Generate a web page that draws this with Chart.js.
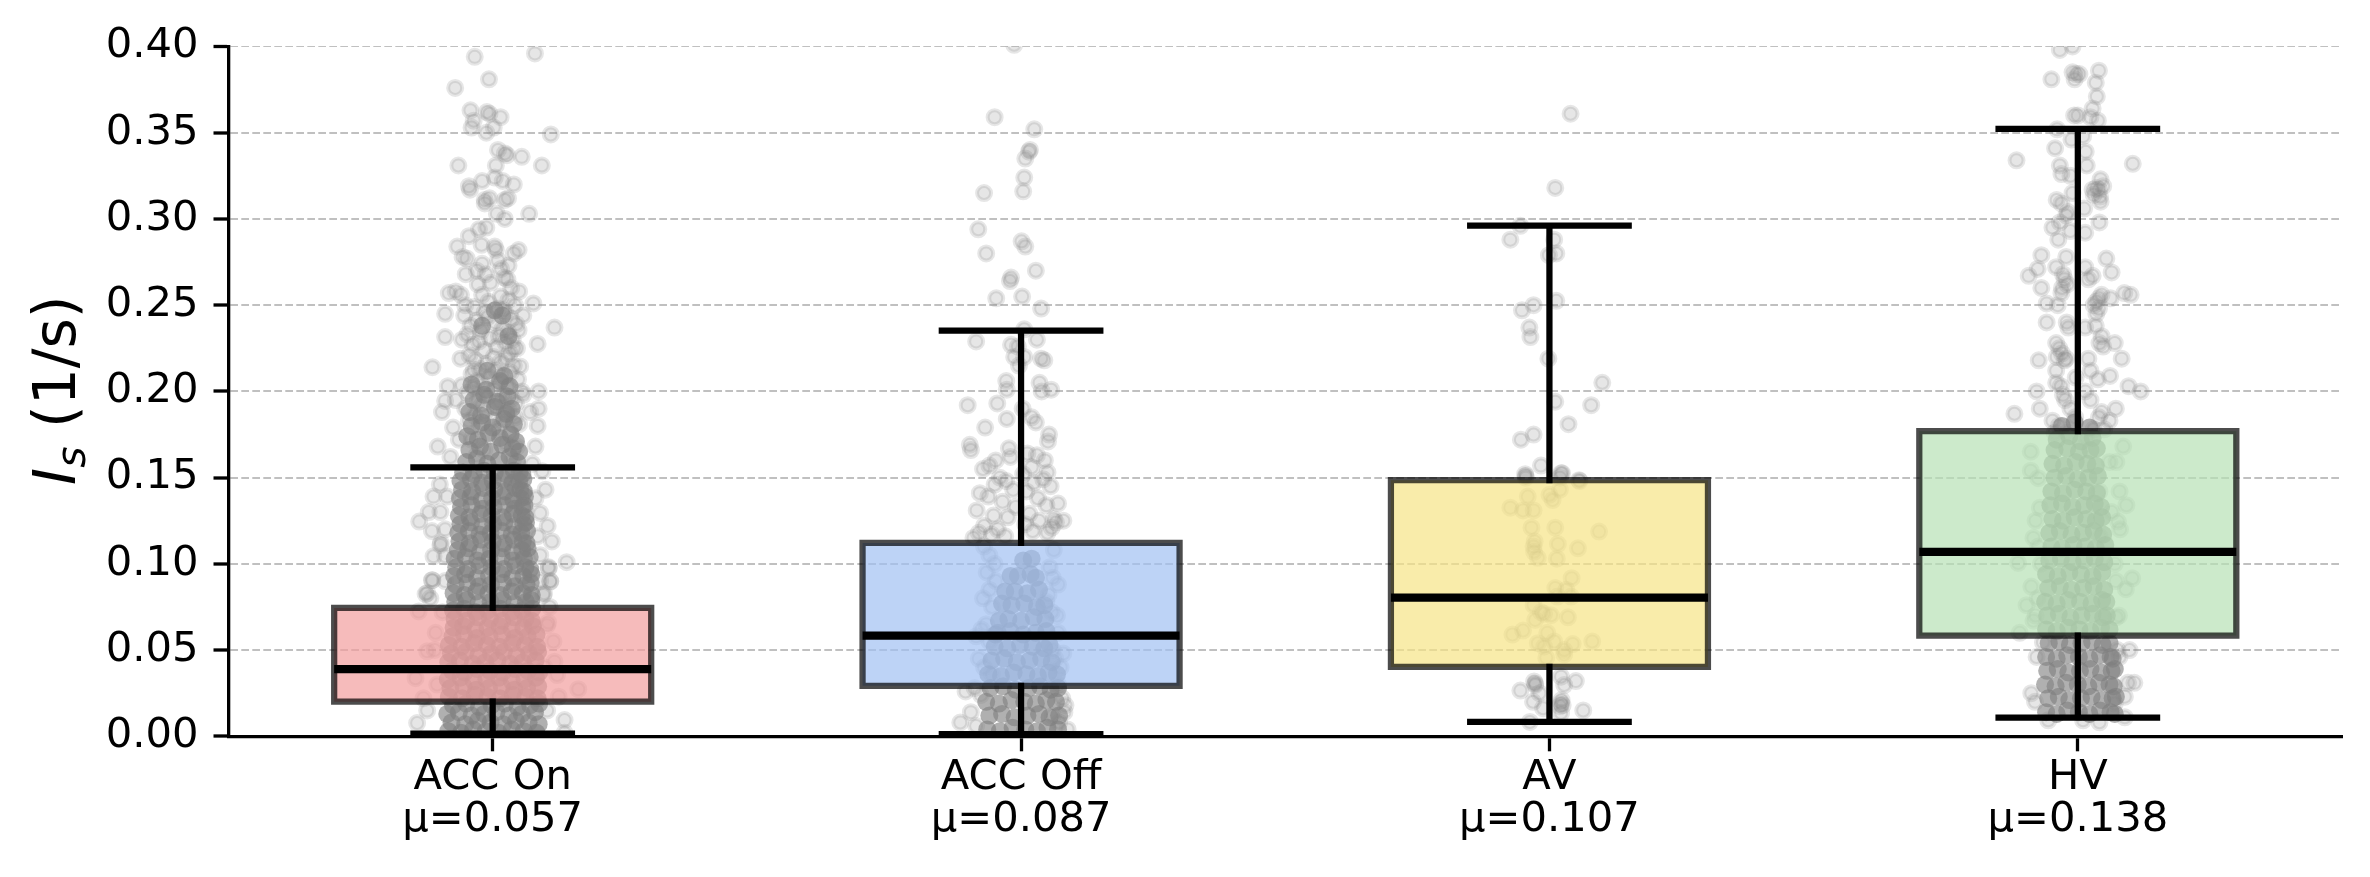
<!DOCTYPE html>
<html>
<head>
<meta charset="utf-8">
<title>Is by vehicle group</title>
<script src="https://cdn.jsdelivr.net/npm/chart.js@4/dist/chart.umd.min.js"></script>
<style>
  html, body { margin: 0; padding: 0; background: #fff; }
  canvas { display: block; }
</style>
</head>
<body>
<canvas id="chart" width="2370" height="877"></canvas>
<script>
const categories = ['ACC On', 'ACC Off', 'AV', 'HV'];
const meanLabels = ['μ=0.057', 'μ=0.087', 'μ=0.107', 'μ=0.138'];
const yTicks = [0, 0.05, 0.1, 0.15, 0.2, 0.25, 0.3, 0.35, 0.4];

// box statistics per group
const q1Values = [0.0201, 0.0293, 0.0402, 0.0584];
const medianValues = [0.039, 0.0584, 0.0804, 0.1069];
const q3Values = [0.0744, 0.1121, 0.1485, 0.1769];
const whiskerLow = [0.0015, 0.0012, 0.0083, 0.0108];
const whiskerHigh = [0.156, 0.2353, 0.2962, 0.3523];

const boxFills = ['rgba(242,158,158,0.7)', 'rgba(161,192,242,0.7)', 'rgba(246,228,134,0.7)', 'rgba(182,225,181,0.7)'];

// individual observations, x is the jitter around the group position
const accOnJitter = [
  -.034,.08,-.007,-.071,-.042,-.011,-.006,.015,-.036,-.04,
  .002,-.012,.11,.01,.023,.027,.055,-.065,.093,.006,
  .004,-.02,.019,.04,-.045,-.043,-.006,-.015,.029,.023,
  -.015,.008,.023,.069,-.012,-.026,-.045,-.067,-.021,.004,
  .006,.049,.04,-.057,-.049,.01,-.02,.03,.016,-.03,
  -.051,-.013,.022,.028,-.004,-.028,.035,.05,-.07,-.06,
  -.083,-.09,-.052,-.054,.077,.117,.058,.049,-.09,.085,
  -.058,.04,-.061,-.114,.052,-.036,-.085,-.058,.087,.058,
  -.09,-.07,-.096,.087,.071,-.075,.085,-.064,-.104,.081,
  -.08,.075,.094,-.112,-.121,-.139,-.115,-.086,-.099,-.09,
  .081,.09,.104,.062,.058,.085,-.099,-.112,-.09,.09,
  .106,.14,-.114,.109,-.09,-.127,-.118,.096,.09,.106,
  .109,-.124,-.115,.097,-.14,-.108,.103,.115,-.124,.117,
  -.146,.122,.162,-.131,.125,-.143,.136,.136,-.124,.103,
  -.02,.015,.03,-.008,.042,-.035,.01,.02,-.015,.025,
  -.01,.035,-.03,.005,.045,-.042,.018,-.022,.03,-.048,
  .012,-.005,.038,-.026,.024,-.038,.008,.046,-.016,.032,
  -.044,.002,.026,-.033,.015,-.012,.04,-.024,.007,.034,
  -.04,.018,-.006,.048,-.03,.012,-.018,.028,-.036,.004,
  .055,-.048,.02,-.01,.036,-.028,.014,.044,-.02,.006,
  -.052,.03,-.014,.022,-.034,.042,.002,-.045,.016,.05,
  -.025,.01,.033,-.008,-.04,.024,.046,-.016,-.03,.038,
  -.1,.1,-.095,.105,-.11,.098,-.105,.108,-.098,.112
];
const accOnValues = [
  .394,.396,.381,.376,.363,.362,.361,.359,.357,.353,
  .353,.35,.349,.34,.338,.337,.336,.331,.331,.331,
  .324,.322,.322,.32,.319,.317,.312,.311,.312,.311,
  .309,.303,.3,.303,.295,.294,.29,.284,.285,.284,
  .282,.282,.28,.278,.277,.276,.274,.273,.271,.27,
  .268,.268,.266,.265,.263,.262,.26,.258,.258,.256,
  .257,.245,.25,.244,.251,.237,.244,.2355,.2315,.2275,
  .23,.225,.219,.214,.2145,.2125,.203,.2036,.2,.198,
  .1945,.195,.188,.19,.188,.179,.18,.172,.168,.168,
  .162,.158,.1537,.139,.13,.1245,.119,.139,.13,.12,
  .138,.1295,.122,.131,.141,.116,.111,.1044,.1044,.105,
  .098,.101,.0905,.09,.09,.0825,.08,.082,.09,.0975,
  .0897,.083,.0905,.083,.0724,.06,.0644,.055,.0493,.0433,
  .0337,.0355,.0273,.022,.023,.0077,.0094,.002,.015,.015,
  .256,.255,.253,.252,.25,.249,.248,.247,.246,.245,
  .243,.242,.241,.24,.239,.238,.236,.235,.234,.233,
  .232,.231,.23,.229,.228,.227,.226,.225,.224,.222,
  .221,.22,.219,.218,.217,.216,.215,.213,.212,.211,
  .21,.209,.208,.207,.206,.205,.204,.203,.202,.201,
  .2,.199,.198,.197,.196,.195,.194,.193,.192,.191,
  .19,.189,.188,.187,.186,.185,.184,.183,.182,.181,
  .18,.178,.176,.174,.172,.17,.168,.166,.163,.16,
  .146,.143,.072,.066,.05,.04,.03,.075,.112,.113
];
// tightly overplotted observations of the dense middle band
const accOnDenseJitter = [
  -.084,-.06,-.037,-.013,.011,.036,.059,.083,
  -.078,-.052,-.028,-.004,.02,.044,.068,.087,
  -.086,-.064,-.04,-.016,.007,.031,.055,.08,
  -.075,-.05,-.026,-.002,.023,.047,.071,.088,
  -.083,-.058,-.034,-.01,.014,.038,.062,.085,
  -.08,-.055,-.031,-.007,.017,.041,.065,.086,
  -.085,-.061,-.036,-.012,.012,.036,.06,.082,
  -.077,-.053,-.029,-.005,.019,.043,.067,.088,
  -.084,-.062,-.038,-.014,.009,.033,.057,.081,
  -.079,-.051,-.027,-.003,.021,.045,.069,.086,
  -.083,-.059,-.035,-.011,.013,.037,.061,.084,
  -.076,-.054,-.03,-.006,.018,.042,.066,.083,
  -.074,-.056,-.033,-.01,.013,.036,.058,.076,
  -.072,-.05,-.028,-.005,.018,.04,.062,.074,
  -.075,-.054,-.032,-.009,.014,.035,.056,.075,
  -.071,-.049,-.027,-.004,.019,.041,.063,.073,
  -.074,-.053,-.031,-.008,.015,.036,.057,.074,
  -.07,-.048,-.026,-.003,.02,.042,.064,.072,
  -.073,-.052,-.03,-.007,.016,.037,.058,.073,
  -.069,-.047,-.025,-.002,.021,.043,.062,.071,
  -.072,-.051,-.029,-.006,.017,.038,.059,.07,
  -.066,-.046,-.024,-.003,.018,.038,.056,.066,
  -.063,-.043,-.022,0,.021,.04,.057,.064,
  -.065,-.045,-.025,-.004,.017,.036,.054,.065,
  -.061,-.041,-.02,.001,.022,.041,.058,.063,
  -.064,-.044,-.023,-.002,.019,.038,.055,.062,
  -.06,-.04,-.019,.002,.023,.042,.056,.06,
  -.062,-.042,-.021,-.001,.02,.039,.053,.061,
  -.058,-.039,-.018,.003,.024,.043,.052,.059,
  -.061,-.041,-.02,0,.021,.037,.05,.058,
  -.056,-.036,-.016,.004,.025,.04,.051,.056,
  -.05,-.03,-.01,.012,.032,.046,
  -.044,-.024,-.004,.018,.038,.05,
  -.048,-.028,-.008,.014,.034,.044,
  -.04,-.02,0,.022,.04,
  -.044,-.022,.004,.026,.036,
  -.036,-.016,.008,.028,
  -.04,-.012,.014,.032,
  -.01,.022,.03,
  .004,.018,-.02
];
const accOnDenseValues = [
  .003,.002,.004,.003,.002,.004,.003,.002,
  .008,.007,.009,.008,.007,.009,.008,.007,
  .013,.014,.012,.013,.014,.012,.013,.014,
  .018,.019,.017,.018,.019,.017,.018,.019,
  .023,.022,.024,.023,.022,.024,.023,.022,
  .028,.029,.027,.028,.029,.027,.028,.029,
  .033,.034,.032,.033,.034,.032,.033,.034,
  .038,.037,.039,.038,.037,.039,.038,.037,
  .043,.044,.042,.043,.044,.042,.043,.044,
  .048,.049,.047,.048,.049,.047,.048,.049,
  .053,.052,.054,.053,.052,.054,.053,.052,
  .058,.059,.057,.058,.059,.057,.058,.059,
  .063,.064,.062,.063,.064,.062,.063,.064,
  .068,.067,.069,.068,.067,.069,.068,.067,
  .073,.074,.072,.073,.074,.072,.073,.074,
  .078,.079,.077,.078,.079,.077,.078,.079,
  .083,.082,.084,.083,.082,.084,.083,.082,
  .088,.089,.087,.088,.089,.087,.088,.089,
  .093,.094,.092,.093,.094,.092,.093,.094,
  .098,.097,.099,.098,.097,.099,.098,.097,
  .103,.104,.102,.103,.104,.102,.103,.104,
  .108,.109,.107,.108,.109,.107,.108,.109,
  .113,.112,.114,.113,.112,.114,.113,.112,
  .118,.119,.117,.118,.119,.117,.118,.119,
  .123,.124,.122,.123,.124,.122,.123,.124,
  .128,.127,.129,.128,.127,.129,.128,.127,
  .133,.134,.132,.133,.134,.132,.133,.134,
  .138,.139,.137,.138,.139,.137,.138,.139,
  .143,.142,.144,.143,.142,.144,.143,.142,
  .148,.149,.147,.148,.149,.147,.148,.149,
  .153,.152,.154,.153,.152,.154,.153,.152,
  .159,.161,.158,.16,.162,.159,
  .166,.168,.165,.169,.167,.165,
  .174,.172,.176,.173,.175,.171,
  .18,.182,.179,.184,.181,
  .188,.186,.191,.187,.19,
  .195,.198,.194,.197,
  .204,.201,.206,.203,
  .212,.209,.232,
  .247,.244,.238
];

const accOffJitter = [
  -.013,-.05,.025,.017,.015,.008,.006,-.07,.004,-.081,
  .001,.008,-.066,.028,-.019,-.021,-.047,.002,.038,.006,
  .03,-.085,-.019,-.006,-.013,.006,.038,.044,-.004,-.028,
  .035,-.027,.039,.057,-.045,-.101,.003,.02,.028,-.027,
  -.068,.053,.051,-.097,-.023,-.095,-.048,-.06,-.02,.012,
  .03,.045,-.072,-.04,.02,.05,-.05,-.028,.004,.024,
  -.015,.042,-.078,-.062,.01,.056,-.035,-.01,.032,.07,
  -.084,-.052,-.025,.016,.048,.062,-.07,-.044,.008,.034,
  .058,-.08,-.056,-.03,.022,.05,.066,.08,-.09,-.07,
  -.06,.062,-.05,.054,-.065,.06,-.048,.07,-.06,.052,
  -.072,.048,-.055,.058,.068,-.066,-.075,.07,-.06,.06,
  -.085,-.08,-.07,-.055,.065,.075,.08,-.105,-.088,-.076,
  .07,.078,.084,-.115,-.095,-.085,.06,.072,.082,.088
];
const accOffValues = [
  .401,.359,.352,.34,.339,.335,.324,.315,.316,.294,
  .287,.284,.28,.27,.266,.264,.254,.255,.248,.236,
  .23,.229,.227,.226,.22,.22,.219,.218,.215,.206,
  .205,.201,.2,.201,.193,.192,.19,.185,.182,.184,
  .179,.175,.171,.169,.167,.166,.16,.157,.162,.164,
  .163,.16,.155,.15,.156,.153,.146,.148,.152,.147,
  .143,.149,.141,.139,.142,.145,.136,.133,.138,.135,
  .131,.128,.127,.129,.134,.126,.122,.12,.123,.125,
  .121,.118,.117,.116,.119,.118,.124,.125,.115,.11,
  .105,.108,.1,.098,.095,.092,.09,.088,.085,.082,
  .08,.078,.075,.072,.07,.065,.062,.06,.055,.05,
  .058,.045,.04,.036,.045,.04,.048,.026,.028,.024,
  .03,.022,.018,.008,.014,.006,.012,.008,.014,.004
];
const accOffDenseJitter = [
  -.064,-.04,-.016,.008,.03,.05,.07,
  -.06,-.036,-.012,.012,.034,.054,.072,
  -.066,-.042,-.018,.006,.028,.048,.066,
  -.058,-.034,-.01,.014,.036,.056,.07,
  -.062,-.038,-.014,.01,.032,.052,.068,
  -.056,-.032,-.008,.016,.038,.058,
  -.05,-.026,-.002,.022,.044,.054,
  -.044,-.02,.004,.028,.048,
  -.048,-.024,0,.024,.046,
  -.042,-.018,.006,.03,.044,
  -.036,-.012,.012,.034,
  -.03,-.006,.018,.028,
  -.02,.004,.02
];
const accOffDenseValues = [
  .004,.003,.005,.004,.003,.005,.004,
  .012,.013,.011,.012,.013,.011,.012,
  .02,.019,.021,.02,.019,.021,.02,
  .028,.029,.027,.028,.029,.027,.028,
  .036,.035,.037,.036,.035,.037,.036,
  .044,.045,.043,.044,.045,.043,
  .052,.051,.053,.052,.051,.053,
  .06,.061,.059,.06,.061,.059,
  .068,.067,.069,.068,.067,
  .076,.077,.075,.076,.077,
  .084,.083,.085,.084,
  .093,.094,.092,.093,
  .102,.103,.101
];

const avJitter = [
  .04,.011,-.055,-.074,.009,.013,-.001,-.03,.013,-.052,
  -.038,-.036,-.002,.1,.011,.079,.036,-.03,-.054,-.016,
  -.046,-.045,.024,.02,.056,-.045,.022,.057,-.041,0,
  .006,.02,-.074,-.05,-.03,-.034,.011,.094,-.028,-.03,
  -.029,.016,.054,-.022,.014,.042,.011,.032,.015,.041,
  -.03,-.016,.003,-.01,.035,-.027,-.05,-.07,-.004,-.022,
  .009,.044,.081,-.01,.028,.028,-.006,.022,-.029,-.027,
  -.027,.05,.028,-.055,-.019,-.031,.022,.025,.02,.023,
  -.012,.064,.022,-.037
];
const avValues = [
  .361,.318,.296,.288,.288,.28,.279,.25,.2525,.247,
  .237,.2315,.219,.205,.194,.192,.181,.175,.172,.157,
  .152,.15,.1525,.15,.1485,.151,.1525,.148,.139,.14,
  .137,.143,.1326,.131,.131,.121,.121,.1187,.113,.11,
  .107,.1115,.109,.1035,.103,.0917,.086,.085,.081,.081,
  .076,.072,.0702,.071,.069,.0675,.0613,.059,.06,.054,
  .055,.0535,.055,.052,.05,.0475,.0455,.0346,.0318,.0305,
  .0298,.032,.0297,.0265,.025,.02,.0193,.018,.0175,.021,
  .0163,.015,.0135,.0083
];

const hvJitter = [
  -.034,-.01,-.01,.003,-.003,-.006,.04,-.05,.034,.036,
  .028,-.007,0,.024,.038,-.039,.01,-.012,-.043,.015,
  -.116,.104,-.034,.017,-.031,-.014,.043,.028,.035,.04,
  .03,.042,.048,-.01,.043,-.04,-.031,.012,-.019,-.022,
  .041,-.048,-.034,-.014,.014,-.037,-.069,-.022,.054,-.041,
  -.076,-.093,.064,.014,-.028,-.025,-.02,-.03,.028,.02,
  -.069,-.031,.088,.1,.045,.04,.035,.03,.04,.035,
  .062,-.059,-.038,-.059,-.021,-.018,.014,.034,.045,.07,
  -.041,-.035,-.03,-.04,-.025,.041,.048,-.022,-.074,.083,
  .02,.024,-.041,.061,.038,-.004,-.041,-.032,-.028,-.024,
  -.078,.096,.119,-.072,-.12,.072,.045,.04,.014,.024,
  -.014,-.048,.06,-.036,-.02,.03,-.005,.05,-.044,.016,
  -.089,-.089,-.075,.086,.073,.06,-.072,.092,.079,.041,
  .064,.076,-.084,.041,-.113,.07,.103,.091,-.088,-.097,
  .073,-.11,-.084,-.08,-.066,.098,-.078,.079,.107,.095,
  -.088,-.081,.089,.07,-.056,.089,.041,.01,-.075,.08,
  -.07,.072,-.076,.078,-.08,.075
];
const hvValues = [
  .398,.4,.385,.384,.384,.381,.386,.381,.379,.371,
  .364,.36,.36,.359,.357,.352,.348,.346,.341,.339,
  .334,.332,.331,.331,.326,.325,.323,.317,.318,.317,
  .314,.313,.319,.315,.31,.311,.309,.306,.304,.302,
  .298,.295,.298,.293,.292,.288,.279,.278,.277,.272,
  .271,.267,.269,.272,.268,.265,.262,.26,.267,.265,
  .26,.257,.257,.256,.256,.254,.252,.25,.248,.245,
  .254,.251,.25,.24,.24,.237,.237,.238,.232,.228,
  .228,.225,.222,.22,.218,.228,.226,.219,.218,.219,
  .219,.212,.212,.209,.207,.208,.205,.203,.198,.195,
  .2,.203,.2,.19,.187,.19,.188,.185,.2,.195,
  .19,.183,.183,.18,.176,.178,.185,.178,.176,.173,
  .165,.154,.1497,.168,.159,.159,.1325,.134,.142,.142,
  .13,.1245,.115,.116,.1005,.1,.0916,.0853,.0868,.076,
  .069,.06,.067,.07,.0545,.05,.046,.046,.031,.031,
  .025,.02,.023,.019,.0093,.011,.0081,.0093,.11,.12,
  .1,.09,.08,.07,.125,.05
];
const hvDenseJitter = [
  -.06,-.04,-.02,.002,.022,.042,.062,.07,
  -.056,-.036,-.016,.006,.026,.046,.066,.072,
  -.062,-.042,-.022,0,.02,.04,.06,.068,
  -.058,-.038,-.018,.004,.024,.044,.064,.07,
  -.06,-.04,-.02,.002,.022,.042,.062,.066,
  -.055,-.035,-.015,.007,.027,.047,.06,
  -.06,-.04,-.018,.003,.024,.044,.06,
  -.058,-.036,-.014,.007,.028,.048,.055,
  -.062,-.04,-.018,.004,.026,.046,.054,
  -.056,-.034,-.012,.01,.03,.05,
  -.06,-.038,-.016,.006,.028,.046,
  -.054,-.032,-.01,.012,.032,.05,
  -.05,-.03,-.008,.014,.034,.052,
  -.054,-.034,-.012,.01,.03,.048,
  -.048,-.028,-.006,.016,.034,.046,
  -.052,-.03,-.01,.012,.032,.044,
  -.05,-.028,-.006,.016,.036,
  -.044,-.022,0,.02,.038,
  -.048,-.026,-.004,.018,.034,
  -.044,-.02,.002,.024,.036,
  -.04,-.016,.006,.028,
  -.03,-.006,.022
];
const hvDenseValues = [
  .014,.013,.015,.014,.013,.015,.014,.013,
  .022,.023,.021,.022,.023,.021,.022,.023,
  .03,.029,.031,.03,.029,.031,.03,.029,
  .038,.039,.037,.038,.039,.037,.038,.039,
  .046,.045,.047,.046,.045,.047,.046,.045,
  .054,.055,.053,.054,.055,.053,.054,
  .062,.061,.063,.062,.061,.063,.062,
  .07,.071,.069,.07,.071,.069,.07,
  .078,.077,.079,.078,.077,.079,.078,
  .086,.087,.085,.086,.087,.085,
  .094,.093,.095,.094,.093,.095,
  .102,.103,.101,.102,.103,.101,
  .11,.109,.111,.11,.109,.111,
  .118,.119,.117,.118,.119,.117,
  .126,.125,.127,.126,.125,.127,
  .134,.135,.133,.134,.135,.133,
  .142,.141,.143,.142,.141,
  .15,.151,.149,.15,.151,
  .158,.157,.159,.158,.157,
  .166,.167,.165,.166,.167,
  .172,.174,.171,.173,
  .18,.182,.179
];

const jitterGroups = [
  { jitter: accOnJitter, values: accOnValues, denseJitter: accOnDenseJitter, denseValues: accOnDenseValues },
  { jitter: accOffJitter, values: accOffValues, denseJitter: accOffDenseJitter, denseValues: accOffDenseValues },
  { jitter: avJitter, values: avValues, denseJitter: [], denseValues: [] },
  { jitter: hvJitter, values: hvValues, denseJitter: hvDenseJitter, denseValues: hvDenseValues }
];

const BOX_HALF = 0.3;
const CAP_HALF = 0.15;

function toPoints(index, jitter, values) {
  return values.map((v, i) => ({ x: index + jitter[i], y: v }));
}

function boxOutlinePath() {
  const path = [];
  categories.forEach((c, i) => {
    const l = i - BOX_HALF, r = i + BOX_HALF;
    // second corner is repeated so the stroke closes with a clean join
    path.push({ x: l, y: q1Values[i] }, { x: r, y: q1Values[i] }, { x: r, y: q3Values[i] },
      { x: l, y: q3Values[i] }, { x: l, y: q1Values[i] }, { x: r, y: q1Values[i] }, { x: i, y: null });
  });
  return path;
}

function whiskerPath() {
  const path = [];
  categories.forEach((c, i) => {
    path.push({ x: i, y: q1Values[i] }, { x: i, y: whiskerLow[i] }, { x: i, y: null });
    path.push({ x: i, y: q3Values[i] }, { x: i, y: whiskerHigh[i] }, { x: i, y: null });
    path.push({ x: i - CAP_HALF, y: whiskerLow[i] }, { x: i + CAP_HALF, y: whiskerLow[i] }, { x: i, y: null });
    path.push({ x: i - CAP_HALF, y: whiskerHigh[i] }, { x: i + CAP_HALF, y: whiskerHigh[i] }, { x: i, y: null });
  });
  return path;
}

function medianPath() {
  const path = [];
  categories.forEach((c, i) => {
    path.push({ x: i - BOX_HALF, y: medianValues[i] }, { x: i + BOX_HALF, y: medianValues[i] }, { x: i, y: null });
  });
  return path;
}

function linePathDataset(label, data, width, color, cap, order) {
  return {
    type: 'scatter', label: label, data: data, showLine: true, spanGaps: false, pointRadius: 0,
    borderColor: color, borderWidth: width, borderCapStyle: cap, borderJoinStyle: 'miter',
    clip: 0, order: order
  };
}

const datasets = [];
jitterGroups.forEach((g, i) => {
  datasets.push({
    type: 'scatter', label: categories[i] + ' dense', data: toPoints(i, g.denseJitter, g.denseValues),
    pointRadius: 9, pointBorderWidth: 0, pointBackgroundColor: 'rgba(128,128,128,0.62)', clip: 0, order: 6
  });
  datasets.push({
    type: 'scatter', label: categories[i], data: toPoints(i, g.jitter, g.values),
    pointRadius: 7, pointBorderWidth: 4, pointBackgroundColor: 'rgba(128,128,128,0.2)',
    pointBorderColor: 'rgba(128,128,128,0.2)', clip: 0, order: 5
  });
});
datasets.push({
  type: 'bar', label: 'IQR',
  data: categories.map((c, i) => ({ x: i, y: [q1Values[i], q3Values[i]] })),
  backgroundColor: boxFills, borderWidth: 0, categoryPercentage: 1, barPercentage: BOX_HALF * 2,
  clip: 0, order: 4
});
datasets.push(linePathDataset('Box edge', boxOutlinePath(), 6.25, 'rgba(0,0,0,0.7)', 'butt', 3));
datasets.push(linePathDataset('Whiskers', whiskerPath(), 6.25, '#000', 'square', 2));
datasets.push(linePathDataset('Medians', medianPath(), 8.3, '#000', 'butt', 1));

// y title has an italic symbol with a subscript, so it is set piece by piece
const yTitlePlugin = {
  id: 'yTitle',
  afterDraw(chart) {
    const ctx = chart.ctx;
    ctx.save();
    ctx.translate(75, 485);
    ctx.rotate(-Math.PI / 2);
    ctx.fillStyle = '#000';
    ctx.textBaseline = 'alphabetic';
    let x = 0;
    ctx.font = 'italic 58.3px "DejaVu Sans"';
    ctx.fillText('I', x, 0);
    x += ctx.measureText('I').width;
    ctx.font = 'italic 40.8px "DejaVu Sans"';
    ctx.fillText('s', x, 10);
    x += ctx.measureText('s').width;
    ctx.font = '58.3px "DejaVu Sans"';
    ctx.fillText(' (1/s)', x, 0);
    ctx.restore();
  }
};

Chart.defaults.font.family = '"DejaVu Sans"';

new Chart(document.getElementById('chart').getContext('2d'), {
  type: 'scatter',
  data: { datasets: datasets },
  plugins: [yTitlePlugin],
  options: {
    responsive: false,
    animation: false,
    events: [],
    devicePixelRatio: 1,
    layout: { padding: { top: 46.5, right: 28, left: 0, bottom: 0 } },
    plugins: { legend: { display: false }, tooltip: { enabled: false } },
    scales: {
      x: {
        type: 'linear', min: -0.5, max: 3.5, offset: false,
        afterBuildTicks: scale => { scale.ticks = categories.map((c, i) => ({ value: i })); },
        afterFit: scale => { scale.height = 140.7; },
        grid: { display: true, offset: false, drawOnChartArea: false, drawTicks: true, tickLength: 15, tickWidth: 3.3, tickColor: '#000' },
        border: { display: true, color: '#000', width: 3.3, z: 1 },
        ticks: {
          autoSkip: false, maxRotation: 0, padding: 6, color: '#000',
          font: { size: 41.67, lineHeight: 1 },
          callback: (value, i) => [categories[i], meanLabels[i]]
        }
      },
      y: {
        type: 'linear', min: 0, max: 0.4,
        afterBuildTicks: scale => { scale.ticks = yTicks.map(v => ({ value: v })); },
        afterFit: scale => { scale.width = 228.5; },
        grid: {
          display: true, drawOnChartArea: true, drawTicks: true, color: '#c0c0c0',
          lineWidth: ctx => (ctx.tick && ctx.tick.value === 0.4 ? 1 : 2),
          tickLength: 15, tickWidth: 3.3, tickColor: '#000'
        },
        border: { display: true, color: '#000', width: 3.3, dash: [7.7, 3.3], z: 1 },
        ticks: {
          padding: 15, color: '#000',
          font: { size: 41.67 },
          callback: value => value.toFixed(2)
        }
      }
    }
  }
});
</script>
</body>
</html>
